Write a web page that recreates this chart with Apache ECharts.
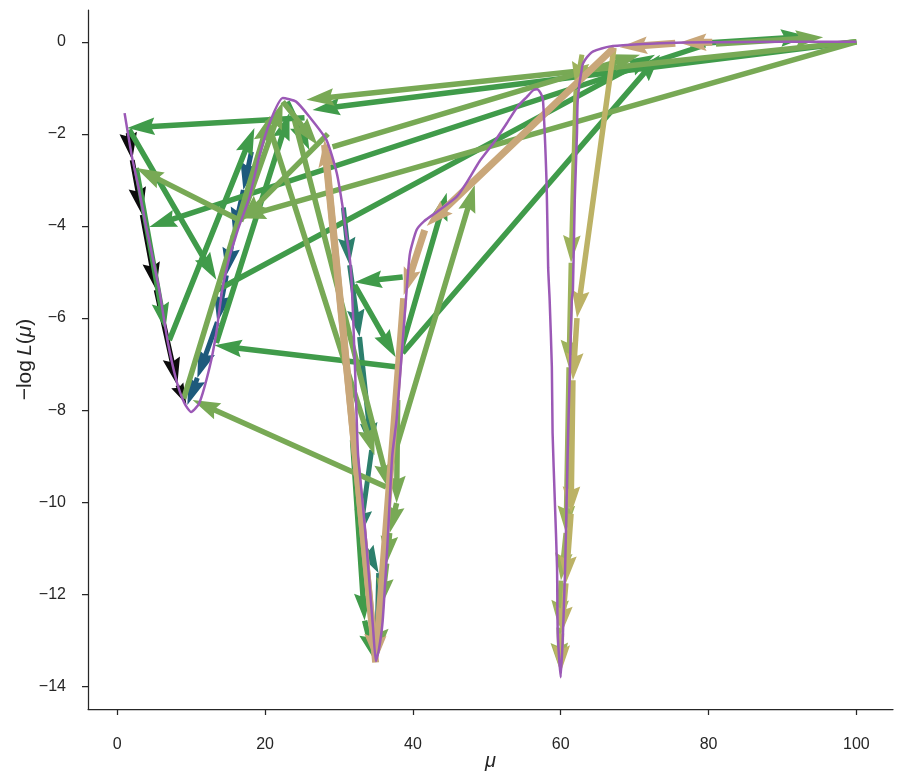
<!DOCTYPE html>
<html>
<head>
<meta charset="utf-8">
<script src="https://cdn.jsdelivr.net/npm/echarts@6/dist/echarts.min.js"></script>
<style>
html,body{margin:0;padding:0;background:#fff;}
#chart{width:903px;height:781px;}
</style>
</head>
<body>
<div id="chart"></div>
<script>
// ---- curve: -log L(mu) ----
const muCurve = [1.0, 2.0, 3.0, 3.9, 4.3, 5.0, 5.7, 6.8, 8.0, 9.1, 10.0, 11.1, 12.5, 13.4, 14.2, 15.2, 15.9, 16.5, 17.9, 19.2, 20.6, 22.4, 24.2, 26.0, 28.3, 29.7, 30.5, 31.0, 31.4, 31.7, 32.1, 32.4, 32.6, 33.2, 33.7, 34.2, 34.6, 35.0, 35.4, 35.9, 36.6, 37.2, 37.8, 38.5, 39.2, 39.6, 40.5, 41.5, 43.2, 45.9, 47.5, 49.0, 50.9, 52.7, 54.2, 55.4, 56.3, 56.8, 57.3, 57.6, 58.1, 58.3, 58.5, 58.8, 58.9, 59.2, 59.5, 59.6, 60.0, 60.3, 60.6, 60.8, 61.0, 61.25, 61.5, 61.65, 61.9, 62.2, 62.3, 62.9, 63.3, 64.4, 66.7, 70.0, 73.4, 80.0, 90.0, 100.0];
const nllCurve = [-1.55, -2.5, -3.25, -4.0, -4.3, -4.85, -5.4, -6.48, -7.35, -7.85, -8.04, -7.85, -7.07, -6.33, -5.4, -4.67, -4.3, -4.0, -3.37, -2.5, -1.77, -1.22, -1.3, -1.63, -2.13, -2.85, -3.59, -4.2, -4.6, -5.17, -6.76, -8.2, -9.0, -10.0, -10.9, -11.9, -12.7, -13.45, -13.2, -12.6, -10.8, -9.0, -8.2, -6.76, -5.3, -4.6, -4.09, -3.9, -3.7, -3.37, -3.0, -2.6, -2.2, -1.77, -1.4, -1.2, -1.05, -1.03, -1.12, -1.26, -3.15, -4.9, -5.6, -7.07, -8.5, -9.96, -11.4, -12.85, -13.8, -12.85, -11.4, -9.96, -8.5, -7.07, -5.6, -5.39, -3.43, -1.98, -1.26, -0.54, -0.39, -0.21, -0.1, -0.06, -0.03, -0.01, 0.0, 0.0];

// ---- optimisation steps: [mu0, nll0, mu1, nll1] ----
const blackSteps = [
  [1.49,-1.98, 2.03,-2.57],
  [2.03,-2.57, 3.39,-3.76],
  [3.39,-3.76, 5.28,-5.39],
  [5.28,-5.39, 8.13,-7.46],
  [8.13,-7.46, 9.35,-7.87]
];
const blueSteps = [
  [18.16,-2.39, 17.07,-3.22],
  [17.07,-3.22, 15.72,-4.20],
  [15.72,-4.20, 14.77,-5.07],
  [14.77,-5.07, 13.55,-6.09],
  [13.55,-6.09, 10.84,-7.30],
  [10.84,-7.30, 9.49,-7.89]
];
const tealSteps = [
  [30.6,-3.6, 31.44,-4.85],
  [31.44,-4.85, 32.79,-6.41],
  [32.79,-6.41, 34.42,-8.87],
  [34.42,-8.87, 32.79,-10.76],
  [32.79,-10.76, 35.37,-11.54],
  [35.37,-11.54, 35.09,-13.43]
];
const greenSteps = [
  [100,0, 26.42,-1.48],
  [25.34,-1.65, 1.36,-1.87],
  [1.63,-1.91, 13.41,-5.17],
  [13.55,-5.39, 72.76,-0.28],
  [79.54,-0.07, 4.34,-4.02],
  [38.62,-6.76, 73.44,-0.28],
  [7.05,-6.48, 18.56,-1.87],
  [2.57,-2.74, 6.5,-6.26],
  [38.21,-7.07, 13.14,-6.59],
  [38.62,-5.11, 32.11,-5.22],
  [32.11,-5.28, 37.67,-6.85],
  [38.21,-6.8, 44.58,-3.28],
  [13.41,-6.54, 23.31,-1.54],
  [77.5,-0.05, 93.5,0.12],
  [23.0,-1.3, 26.0,-2.35],
  [31.84,-8.65, 33.47,-12.57],
  [33.47,-12.57, 34.82,-13.43]
];
const lightSteps = [
  [100,0, 16.4,-3.83],
  [16.5,-3.87, 2.57,-2.74],
  [9.0,-7.75, 20.7,-1.6],
  [100,0, 25.6,-1.26],
  [36.4,-9.67, 10.2,-7.78],
  [20.3,-1.7, 34.8,-8.98],
  [16.7,-3.9, 22.4,-1.3],
  [28.5,-2.0, 16.7,-3.9],
  [29.13,-2.28, 70.73,-0.28],
  [36.45,-9.52, 48.37,-3.11],
  [23.98,-1.7, 36.86,-9.74],
  [22.4,-1.3, 27.1,-2.24],
  [37.94,-7.78, 37.8,-10.02],
  [37.8,-10.02, 36.86,-10.67],
  [36.86,-10.67, 36.45,-11.33],
  [36.45,-11.33, 35.77,-12.24],
  [35.77,-12.24, 35.23,-13.33],
  [81.0,-0.05, 95.5,0.1]
];
const oliveGreenSteps = [
  [62.87,-0.28, 62.06,-1.04],
  [62.06,-1.04, 61.4,-4.8],
  [61.4,-4.8, 61.1,-7.07],
  [61.1,-7.07, 60.7,-10.67],
  [60.7,-10.67, 60.03,-11.7],
  [60.03,-11.7, 59.76,-12.72],
  [59.76,-12.72, 59.9,-13.65]
];
const oliveSteps = [
  [67.2,-0.13, 62.2,-6.0],
  [62.2,-6.0, 61.65,-7.35],
  [61.65,-7.35, 61.4,-10.25],
  [61.4,-10.25, 60.7,-11.76],
  [60.7,-11.76, 60.1,-12.85],
  [60.1,-12.85, 60.0,-13.7]
];
const tanSteps = [
  [80.5,-0.01, 76.0,-0.02],
  [75.5,-0.03, 68.0,-0.12],
  [67.2,-0.13, 41.87,-4.0],
  [41.6,-4.09, 38.75,-5.5],
  [38.75,-5.57, 34.96,-13.48],
  [34.96,-13.48, 28.05,-2.13],
  [28.05,-2.24, 34.96,-13.43]
];

const xTicks = [0, 20, 40, 60, 80, 100];
const yTicks = [-14, -12, -10, -8, -6, -4, -2, 0];

const TXT = '#262626';
const FONT = 'Liberation Sans, Arial, sans-serif';

function arrowSeries(data, color, w, z) {
  return {
    type: 'custom',
    coordinateSystem: 'cartesian2d',
    data: data,
    encode: { x: [0, 2], y: [1, 3] },
    silent: true,
    animation: false,
    z: z,
    renderItem: function (params, api) {
      const p0 = api.coord([api.value(0), api.value(1)]);
      const p1 = api.coord([api.value(2), api.value(3)]);
      const dx = p1[0] - p0[0], dy = p1[1] - p0[1];
      const len = Math.sqrt(dx * dx + dy * dy) || 1;
      const ux = dx / len, uy = dy / len;
      const nx = -uy, ny = ux;
      const HL = 5 * 5.5, HA = 4.5 * 5.5, HW = 1.6 * 5.5;
      const s = Math.min(1, len / HL);
      const hl = HL * s, ha = HA * s, hw = HW * s, sw = (w / 2) * s;
      const pts = [
        [p0[0] + nx * sw, p0[1] + ny * sw],
        [p1[0] - ux * ha + nx * sw, p1[1] - uy * ha + ny * sw],
        [p1[0] - ux * hl + nx * hw, p1[1] - uy * hl + ny * hw],
        [p1[0], p1[1]],
        [p1[0] - ux * hl - nx * hw, p1[1] - uy * hl - ny * hw],
        [p1[0] - ux * ha - nx * sw, p1[1] - uy * ha - ny * sw],
        [p0[0] - nx * sw, p0[1] - ny * sw]
      ];
      return { type: 'polygon', shape: { points: pts }, style: { fill: color } };
    }
  };
}

const fmt = v => (v < 0 ? '\u2212' + Math.abs(v) : String(v));

const chart = echarts.init(document.getElementById('chart'), null, { renderer: 'canvas' });
chart.setOption({
  backgroundColor: '#ffffff',
  animation: false,
  grid: { left: 88, right: 10, top: 10, bottom: 72, containLabel: false },
  xAxis: {
    type: 'value', min: -3.95, max: 104.95,
    axisLine: { show: true, onZero: false, lineStyle: { color: TXT, width: 1.25 } },
    axisTick: { show: true, customValues: xTicks, length: 6, lineStyle: { color: TXT, width: 1.25 } },
    axisLabel: { customValues: xTicks, formatter: fmt, color: TXT, fontSize: 16, fontFamily: FONT, margin: 28 },
    splitLine: { show: false },
    name: 'μ', nameLocation: 'middle', nameGap: 42, nameMoveOverlap: false,
    nameTextStyle: { color: TXT, fontSize: 20, fontStyle: 'italic', fontFamily: FONT }
  },
  yAxis: {
    type: 'value', min: -14.49, max: 0.69,
    axisLine: { show: true, onZero: false, lineStyle: { color: TXT, width: 1.25 } },
    axisTick: { show: true, customValues: yTicks, length: 6, lineStyle: { color: TXT, width: 1.25 } },
    axisLabel: { customValues: yTicks, formatter: fmt, color: TXT, fontSize: 16, fontFamily: FONT, margin: 22 },
    splitLine: { show: false },
    name: '\u2212log\u2009{i|L}({i|μ})', nameLocation: 'middle', nameGap: 52, nameRotate: 90, nameMoveOverlap: false,
    nameTextStyle: { color: TXT, fontSize: 21, fontFamily: FONT,
      rich: { i: { fontStyle: 'italic', fontSize: 21, color: TXT, fontFamily: FONT } } }
  },
  series: [
    arrowSeries(blackSteps, '#0b0b0b', 5, 2),
    arrowSeries(blueSteps, '#1e5a7c', 5, 2),
    arrowSeries(tealSteps, '#2c7f6c', 5, 2),
    arrowSeries(greenSteps, '#409b4a', 5.5, 2),
    arrowSeries(lightSteps, '#78a955', 5.5, 2),
    arrowSeries(oliveGreenSteps, '#9db25b', 5, 2),
    arrowSeries(oliveSteps, '#bcb266', 5.5, 2),
    arrowSeries(tanSteps, '#c9a77a', 7, 2),
    {
      type: 'line', z: 5, silent: true, animation: false,
      data: muCurve.map((m, i) => [m, nllCurve[i]]),
      showSymbol: false, smooth: 0.2,
      lineStyle: { color: '#9b59b6', width: 2.5 }
    }
  ]
});
</script>
</body>
</html>
